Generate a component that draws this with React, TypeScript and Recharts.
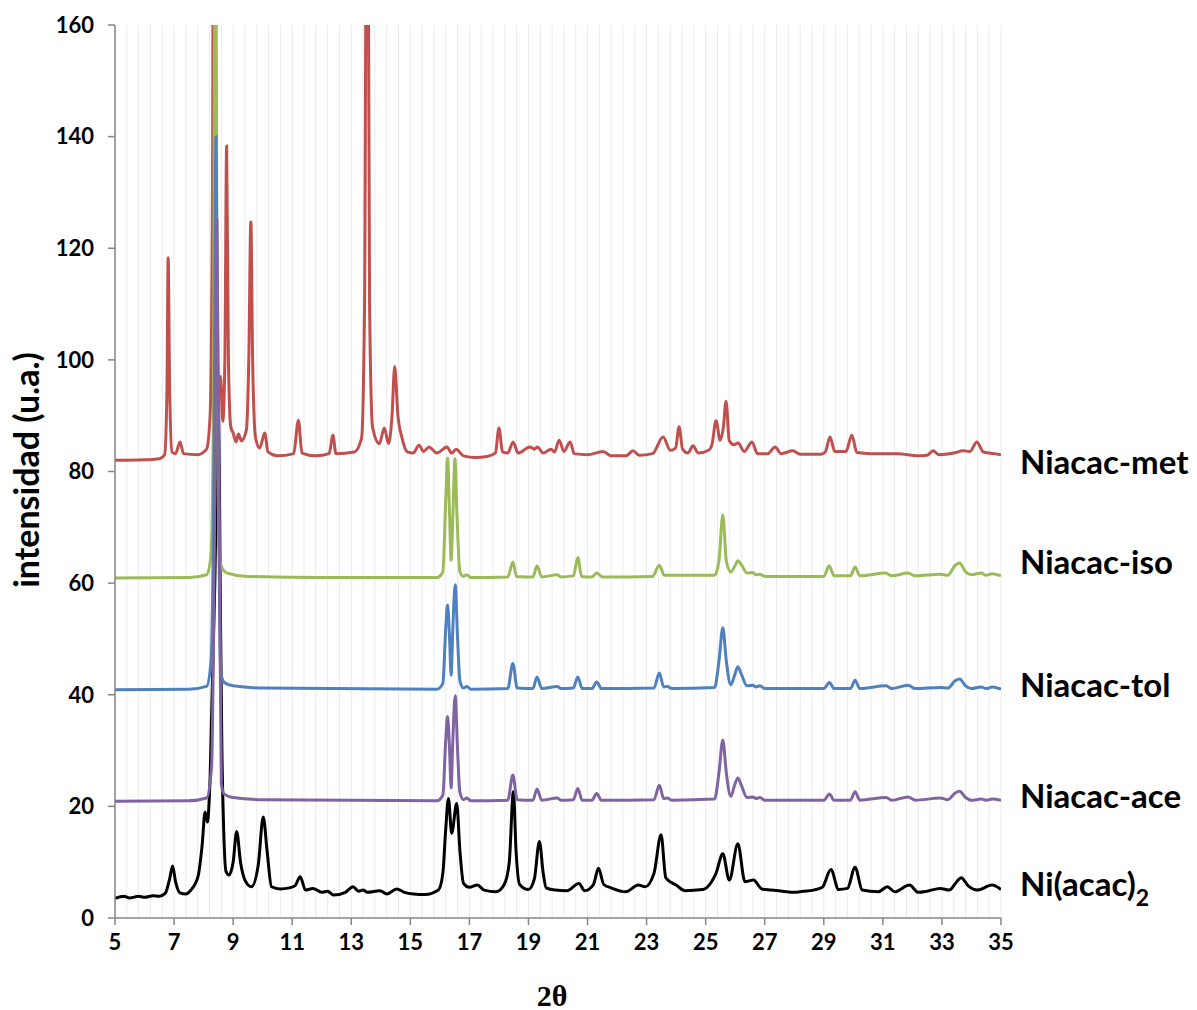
import { LineChart, Line, XAxis, YAxis, ReferenceLine } from 'recharts'

// 2θ ticks and intensity ticks
const xTicks = [5, 7, 9, 11, 13, 15, 17, 19, 21, 23, 25, 27, 29, 31, 33, 35]
const yTicks = [0, 20, 40, 60, 80, 100, 120, 140, 160]
const minorGrid = Array.from({ length: 76 }, (_, i) => +(5 + i * 0.4).toFixed(1))

// [2θ, intensidad]
const met: [number, number][] = [
  [5, 82.0], [6.0, 82.1], [6.5, 82.3], [6.68, 83], [6.76, 95], [6.8, 118.3], [6.85, 95], [6.93, 83.5],
  [7.05, 83.2], [7.2, 85.3], [7.32, 83.2], [7.8, 83], [8.1, 84], [8.22, 90], [8.3, 130], [8.35, 220],
  [8.42, 130], [8.5, 95], [8.57, 97], [8.65, 89], [8.72, 100], [8.78, 138.3], [8.84, 100], [8.92, 88],
  [9.0, 86.9], [9.1, 85.3], [9.18, 86.7], [9.28, 85.5], [9.45, 87.5], [9.53, 100], [9.6, 124.7],
  [9.66, 100], [9.76, 86], [9.9, 84.2], [10.07, 86.9], [10.18, 83.5], [10.5, 82.8], [11.05, 83.2],
  [11.21, 89.2], [11.33, 83.3], [11.8, 82.8], [12.25, 83.2], [12.38, 86.5], [12.48, 83.2], [13.1, 83.5],
  [13.35, 86], [13.45, 110], [13.54, 220], [13.62, 110], [13.72, 88], [13.95, 85], [14.12, 87.8],
  [14.26, 85], [14.38, 90], [14.47, 98.8], [14.58, 90], [14.71, 86.2], [14.9, 83.5], [15.1, 83.3],
  [15.29, 84.7], [15.45, 83.6], [15.63, 84.4], [15.9, 83.3], [16.24, 84.4], [16.4, 83.3], [16.55, 84.0],
  [16.8, 82.8], [17.2, 82.5], [17.6, 82.7], [17.88, 83.3], [18.0, 87.8], [18.12, 83.5], [18.3, 83.3],
  [18.48, 85.3], [18.65, 83.3], [19.05, 84.4], [19.2, 84.0], [19.3, 84.4], [19.5, 83.3], [19.76, 84.0],
  [19.88, 83.5], [20.04, 85.6], [20.2, 83.6], [20.41, 85.3], [20.55, 83.2], [21.0, 83], [21.53, 83.6],
  [21.8, 82.8], [22.3, 82.8], [22.54, 83.7], [22.75, 82.9], [23.2, 83.2], [23.56, 86.2], [23.8, 83.8],
  [23.98, 84.2], [24.1, 88.0], [24.22, 84], [24.4, 83.3], [24.57, 84.6], [24.75, 83.3], [25.1, 83.8],
  [25.22, 85], [25.35, 89.1], [25.49, 85.6], [25.6, 88], [25.69, 92.6], [25.8, 85.5], [25.95, 84.8],
  [26.1, 85.1], [26.3, 83.6], [26.57, 85.3], [26.75, 83.2], [27.1, 83.2], [27.35, 84.4], [27.55, 83.2],
  [27.95, 83.7], [28.2, 83.1], [28.9, 83.1], [29.05, 83.5], [29.21, 86.2], [29.37, 83.6], [29.75, 83.6],
  [29.95, 86.5], [30.12, 83.4], [30.6, 83.2], [31.5, 83.2], [32.2, 82.8], [32.5, 82.9], [32.7, 83.7],
  [32.9, 83.0], [33.4, 83.3], [33.72, 83.7], [33.95, 83.6], [34.18, 85.3], [34.4, 83.5], [34.9, 83.1],
  [35, 83.0],
]

const iso: [number, number][] = [
  [5, 60.9], [7.5, 61.0], [8.1, 61.5], [8.25, 65], [8.33, 90], [8.4, 200], [8.47, 90], [8.55, 64],
  [8.65, 62.5], [8.8, 61.8], [9.5, 61.2], [12, 61.0], [15.9, 61.0], [16.1, 62], [16.2, 75], [16.26, 82.4],
  [16.33, 72], [16.38, 64.1], [16.44, 72], [16.51, 82.3], [16.58, 72], [16.68, 62], [16.8, 61.2],
  [16.92, 61.5], [17.05, 61.0], [18.3, 61.1], [18.47, 63.8], [18.6, 61.2], [19.15, 61.1], [19.29, 63.1],
  [19.45, 61.1], [19.97, 61.5], [20.1, 61.1], [20.52, 61.3], [20.67, 64.6], [20.8, 61.2], [21.15, 61.1],
  [21.31, 61.8], [21.5, 61.1], [23.2, 61.2], [23.43, 63.2], [23.6, 61.4], [25.3, 61.4], [25.45, 64],
  [25.58, 72.2], [25.7, 64], [25.85, 62], [26.0, 63.2], [26.09, 64.0], [26.22, 63.2], [26.4, 61.8],
  [26.6, 61.9], [26.7, 61.5], [26.84, 61.6], [27.0, 61.2], [29.0, 61.2], [29.18, 63.1], [29.35, 61.3],
  [29.9, 61.3], [30.06, 62.9], [30.22, 61.3], [31.1, 61.8], [31.3, 61.3], [31.85, 61.8], [32.1, 61.3],
  [32.94, 61.6], [33.2, 61.4], [33.45, 63.2], [33.6, 63.6], [33.8, 62], [34.0, 61.5], [34.33, 61.8],
  [34.5, 61.4], [34.7, 61.7], [35, 61.3],
]

const tol: [number, number][] = [
  [5, 40.9], [7.5, 41.0], [8.1, 41.5], [8.25, 46], [8.35, 80], [8.42, 140], [8.5, 80], [8.58, 44],
  [8.7, 42.2], [9.0, 41.6], [10, 41.2], [15.9, 41.0], [16.1, 42], [16.2, 52], [16.26, 56.1], [16.33, 50],
  [16.38, 43.5], [16.44, 52], [16.52, 59.7], [16.6, 50], [16.68, 42.5], [16.8, 41.2], [16.91, 41.5],
  [17.05, 41], [18.3, 41.1], [18.47, 45.6], [18.62, 41.2], [19.15, 41.1], [19.29, 43.2], [19.45, 41.1],
  [19.97, 41.5], [20.1, 41.1], [20.52, 41.2], [20.67, 43.2], [20.82, 41.1], [21.15, 41.1], [21.31, 42.3],
  [21.47, 41.1], [23.25, 41.2], [23.43, 43.9], [23.58, 41.4], [23.7, 41.5], [23.85, 41.1], [25.3, 41.3],
  [25.45, 46], [25.58, 52.0], [25.7, 46], [25.85, 41.8], [25.98, 43.5], [26.09, 45.0], [26.2, 43.8],
  [26.4, 41.6], [26.6, 41.7], [26.7, 41.4], [26.84, 41.6], [27.0, 41.1], [29.0, 41.1], [29.19, 42.2],
  [29.35, 41.1], [29.9, 41.1], [30.06, 42.6], [30.22, 41.1], [31.11, 41.6], [31.3, 41.1], [31.85, 41.7],
  [32.1, 41.1], [32.94, 41.3], [33.2, 41.2], [33.45, 42.5], [33.6, 42.8], [33.8, 41.6], [34.0, 41.1],
  [34.33, 41.4], [34.5, 41.1], [34.7, 41.4], [35, 41.0],
]

const ace: [number, number][] = [
  [5, 20.9], [7.5, 21.0], [8.1, 21.5], [8.27, 27], [8.37, 70], [8.45, 125], [8.53, 70], [8.6, 24],
  [8.7, 22.2], [9.0, 21.6], [10, 21.2], [15.9, 21.0], [16.1, 22], [16.2, 32], [16.26, 36.1], [16.33, 30],
  [16.38, 23.3], [16.44, 32], [16.52, 39.8], [16.6, 30], [16.68, 22.5], [16.8, 21.2], [16.91, 21.5],
  [17.05, 21.0], [18.3, 21.1], [18.47, 25.6], [18.62, 21.2], [19.15, 21.1], [19.29, 23.1], [19.45, 21.1],
  [19.97, 21.5], [20.1, 21.1], [20.52, 21.2], [20.67, 23.2], [20.82, 21.1], [21.15, 21.1], [21.31, 22.3],
  [21.47, 21.1], [23.25, 21.2], [23.43, 23.8], [23.58, 21.4], [23.7, 21.5], [23.85, 21.1], [25.3, 21.3],
  [25.45, 26], [25.58, 31.9], [25.7, 26], [25.85, 21.8], [25.98, 23.8], [26.09, 25.1], [26.2, 23.9],
  [26.4, 21.6], [26.6, 21.7], [26.7, 21.4], [26.84, 21.6], [27.0, 21.1], [29.0, 21.1], [29.19, 22.2],
  [29.35, 21.1], [29.9, 21.1], [30.06, 22.6], [30.22, 21.1], [31.11, 21.6], [31.3, 21.1], [31.85, 21.7],
  [32.1, 21.1], [32.94, 21.5], [33.2, 21.2], [33.45, 22.4], [33.6, 22.7], [33.8, 21.6], [34.0, 21.1],
  [34.33, 21.3], [34.5, 21.1], [34.7, 21.3], [35, 21.1],
]

const niAcac: [number, number][] = [
  [5, 3.5], [5.3, 3.9], [5.5, 3.6], [5.8, 3.9], [6.0, 3.7], [6.3, 4.0], [6.5, 3.9], [6.7, 4.4],
  [6.85, 7], [6.95, 9.3], [7.05, 6.5], [7.2, 4.5], [7.4, 4.3], [7.55, 4.9], [7.81, 7.4], [7.95, 13],
  [8.05, 19.0], [8.13, 17.2], [8.22, 25], [8.38, 60], [8.5, 95], [8.56, 60], [8.62, 30], [8.68, 15.8],
  [8.76, 8.3], [8.86, 7.7], [9.0, 10], [9.12, 15.5], [9.25, 10], [9.4, 6.8], [9.62, 5.6], [9.85, 9.5],
  [10.02, 18.1], [10.15, 12], [10.3, 5.6], [10.6, 5.2], [10.9, 5.4], [11.1, 5.8], [11.27, 7.4],
  [11.45, 5.0], [11.7, 5.3], [12.0, 4.6], [12.2, 4.8], [12.4, 4.1], [12.8, 4.6], [13.06, 5.6],
  [13.25, 4.8], [13.4, 5.0], [13.55, 4.6], [13.97, 4.9], [14.2, 4.3], [14.54, 5.2], [14.8, 4.6],
  [15.1, 4.3], [15.5, 4.2], [15.95, 5], [16.1, 8], [16.2, 16], [16.29, 21.4], [16.4, 15.2], [16.57, 20.5],
  [16.68, 12], [16.8, 6.2], [17.0, 5.5], [17.27, 5.9], [17.5, 5.0], [17.9, 4.7], [18.18, 6], [18.35, 10],
  [18.49, 22.6], [18.58, 12], [18.7, 6.0], [19.0, 5.1], [19.2, 7], [19.37, 13.7], [19.5, 8], [19.6, 5.4],
  [19.9, 5.0], [20.3, 4.9], [20.71, 6.2], [20.9, 4.9], [21.2, 6], [21.37, 8.9], [21.55, 6], [21.8, 5.4],
  [22.3, 4.7], [22.72, 5.9], [22.95, 5.6], [23.25, 8], [23.49, 14.9], [23.65, 7.2], [24.0, 5.9],
  [24.3, 4.9], [24.9, 5.1], [25.2, 6.5], [25.35, 8], [25.58, 11.5], [25.8, 6.8], [26.09, 13.3],
  [26.33, 6.5], [26.62, 6.8], [26.9, 5.2], [27.2, 5.0], [27.6, 4.8], [28.0, 4.6], [28.3, 4.8],
  [28.65, 5.0], [28.95, 5.5], [29.24, 8.7], [29.5, 5.1], [29.8, 5.3], [30.06, 9.1], [30.3, 5.0],
  [30.85, 4.7], [31.15, 5.6], [31.4, 4.7], [31.9, 5.9], [32.2, 4.6], [32.5, 4.8], [32.94, 5.3],
  [33.25, 5.0], [33.5, 6.5], [33.65, 7.2], [33.9, 5.7], [34.2, 5.0], [34.69, 5.9], [35, 5.1],
]

// drawn bottom to top
const series = [
  { name: 'Ni(acac)2', pts: niAcac, color: '#000000', labelTop: 863 },
  { name: 'Niacac-met', pts: met, color: '#C0504D', labelTop: 441 },
  { name: 'Niacac-iso', pts: iso, color: '#9BBB59', labelTop: 541 },
  { name: 'Niacac-tol', pts: tol, color: '#4F81BD', labelTop: 664 },
  { name: 'Niacac-ace', pts: ace, color: '#8064A2', labelTop: 775 },
]

const toRows = (pts: [number, number][]) => pts.map(([x, y]) => ({ x, y }))

const tickFont = { fill: '#000', fontSize: 22, fontWeight: 700, fontFamily: 'Lato' }
const labelStyle: React.CSSProperties = {
  position: 'absolute',
  left: 1020,
  fontFamily: 'Lato',
  fontWeight: 700,
  fontSize: 33,
  lineHeight: '40px',
  color: '#000',
  whiteSpace: 'nowrap',
}

export default function App() {
  return (
    <div style={{ position: 'absolute', left: 0, top: 0, width: 1197, height: 1010, background: '#fff' }}>
      <LineChart width={1197} height={1010} margin={{ top: 25, right: 196, bottom: 42, left: 0 }}>
        <XAxis
          dataKey="x"
          type="number"
          domain={[5, 35]}
          ticks={xTicks}
          allowDataOverflow
          allowDuplicatedCategory={false}
          height={50}
          stroke="#868686"
          strokeWidth={1.5}
          tickSize={7}
          tickMargin={9}
          tick={tickFont}
        />
        <YAxis
          type="number"
          domain={[0, 160]}
          ticks={yTicks}
          allowDataOverflow
          width={115}
          stroke="#868686"
          strokeWidth={1.5}
          tickSize={7}
          tickMargin={14}
          tick={tickFont}
        />
        {minorGrid.map((v) => (
          <ReferenceLine key={v} x={v} stroke="#EBEBEB" strokeWidth={1} />
        ))}
        {series.map((s) => (
          <Line
            key={s.name}
            data={toRows(s.pts)}
            dataKey="y"
            type="monotone"
            stroke={s.color}
            strokeWidth={3}
            dot={false}
            activeDot={false}
            isAnimationActive={false}
          />
        ))}
      </LineChart>
      {series.map((s) => (
        <div key={s.name} style={{ ...labelStyle, top: s.labelTop }}>
          {s.name === 'Ni(acac)2' ? (
            <span>
              Ni(acac)<sub style={{ fontSize: 23, verticalAlign: -10 }}>2</sub>
            </span>
          ) : (
            s.name
          )}
        </div>
      ))}
      <div
        style={{
          position: 'absolute',
          left: 25,
          top: 470,
          transform: 'translate(-50%, -50%) rotate(-90deg)',
          fontFamily: 'Lato',
          fontWeight: 700,
          fontSize: 34,
          whiteSpace: 'nowrap',
        }}
      >
        intensidad (u.a.)
      </div>
      <div
        style={{
          position: 'absolute',
          left: 552,
          top: 996,
          transform: 'translate(-50%, -50%)',
          fontFamily: 'Liberation Serif',
          fontWeight: 700,
          fontSize: 30,
          whiteSpace: 'nowrap',
        }}
      >
        2θ
      </div>
    </div>
  )
}
